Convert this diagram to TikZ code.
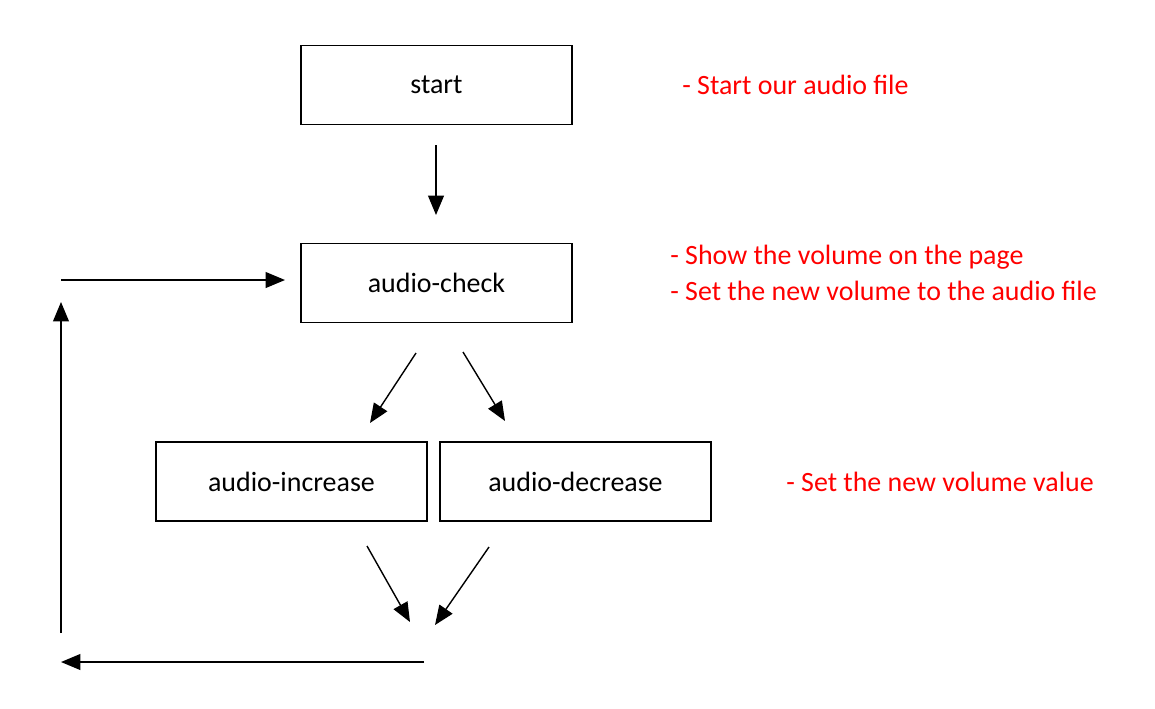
\documentclass[tikz,border=0pt]{standalone}
\usepackage{fontspec}
\setmainfont{Carlito}
\usetikzlibrary{arrows.meta}
\begin{document}
\begin{tikzpicture}[x=0.02cm,y=-0.02cm,
  box/.style={draw,line width=0.8pt,minimum width=271*0.02cm,minimum height=79*0.02cm,inner sep=0pt,font=\fontsize{15.9}{18}\selectfont},
  note/.style={text=red,anchor=west,inner sep=0pt,font=\fontsize{15.9}{18}\selectfont},
  arr/.style={line width=0.8pt,-{Triangle[length=11pt,width=9pt]}}]
\useasboundingbox (0,0) rectangle (1155,708);
\node[box] (start) at (436.5,85) {start};
\node[box] (check) at (436.5,283) {audio-check};
\node[box] (inc) at (291.5,481.5) {audio-increase};
\node[box] (dec) at (575.5,481.5) {audio-decrease};
\node[note] (n1) at (682,85) {- Start our audio file};
\node[note] (n2) at (670,257) {- Show the volume on the page};
\node[note] (n3) at (670,291) {- Set the new volume to the audio file};
\node[note] (n4) at (786,482) {- Set the new volume value};
\coordinate (a1) at (436,145); \coordinate (a2) at (436,215);
\coordinate (b1) at (61,280); \coordinate (b2) at (285,280);
\coordinate (c1) at (416,353); \coordinate (c2) at (370,423);
\coordinate (d1) at (463,352); \coordinate (d2) at (505,421);
\coordinate (e1) at (367,546); \coordinate (e2) at (410,622);
\coordinate (f1) at (489,547); \coordinate (f2) at (435,625);
\coordinate (g1) at (424,662); \coordinate (g2) at (61,662);
\coordinate (h1) at (61,633); \coordinate (h2) at (61,302);
\foreach \p in {a,b,c,d,e,f,g,h}{\draw[arr] (\p1) -- (\p2);}
\end{tikzpicture}
\end{document}
